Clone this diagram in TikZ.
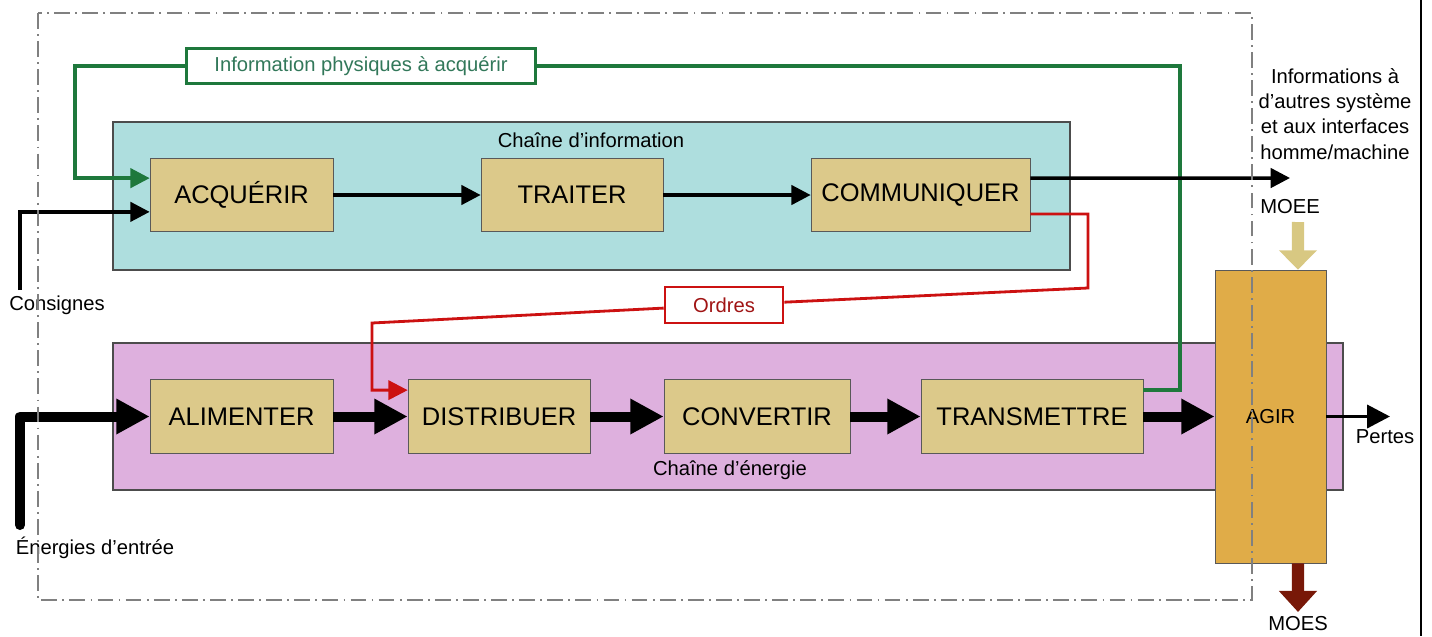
\documentclass[tikz,border=0pt]{standalone}
\usepackage{fontspec}
\setmainfont{Liberation Sans}
\usetikzlibrary{arrows.meta,positioning,calc}

\definecolor{infofill}{RGB}{174,222,222}
\definecolor{enerfill}{RGB}{222,176,222}
\definecolor{boxfill}{RGB}{220,201,138}
\definecolor{agirfill}{RGB}{224,172,72}
\definecolor{vert}{RGB}{30,120,60}
\definecolor{verttxt}{RGB}{50,120,90}
\definecolor{rouge}{RGB}{204,17,17}
\definecolor{rougetxt}{RGB}{160,20,20}
\definecolor{moee}{RGB}{216,200,130}
\definecolor{moes}{RGB}{120,24,8}

\begin{document}
\begin{tikzpicture}[x=0.02cm, y=-0.02cm,
  fonction/.style={draw=gray!70!black, fill=boxfill, minimum height=1.47cm, inner sep=0pt, font=\fontsize{14.5}{17}\selectfont},
  etiq/.style={font=\fontsize{11.5}{14.3}\selectfont, inner sep=1pt},
  info/.style={-{Triangle[length=11pt,width=11pt]}, line width=2pt},
  energie/.style={-{Triangle[length=19pt,width=19pt]}, line width=5.7pt},
  chaine/.style={draw=gray!60!black, line width=0.8pt}]

\useasboundingbox (0,0) rectangle (1432,636);

% the two chains
\draw[chaine, fill=infofill] (113,122) rectangle (1070,270);
\draw[chaine, fill=enerfill] (113,343) rectangle (1343,490);
\node[etiq] (titinfo) at (591,140) {Chaîne d’information};
\node[etiq] (titener) at (730,470) {Chaîne d’énergie};

% information chain
\node[fonction, minimum width=3.66cm] (acq) at (241.5,195) {ACQUÉRIR};
\node[fonction, minimum width=3.64cm] (trait) at (572,195) {TRAITER};
\node[fonction, minimum width=4.38cm] (comm) at (920.5,195) {COMMUNIQUER};

% energy chain
\node[fonction, minimum width=3.66cm] (alim) at (241.5,416.5) {ALIMENTER};
\node[fonction, minimum width=3.64cm] (distr) at (499,416.5) {DISTRIBUER};
\node[fonction, minimum width=3.72cm] (conv) at (757,416.5) {CONVERTIR};
\node[fonction, minimum width=4.44cm] (trans) at (1032,416.5) {TRANSMETTRE};
\node[fonction, fill=agirfill, minimum width=2.22cm, minimum height=5.86cm, font=\fontsize{11.5}{14}\selectfont] (agir) at (1270.5,416.5) {AGIR};

\draw[info] (acq) -- (trait);
\draw[info] (trait) -- (comm);
\draw[energie] (alim) -- (distr);
\draw[energie] (distr) -- (conv);
\draw[energie] (conv) -- (trans);
\draw[energie] (trans) -- (agir);

% inputs
\coordinate (cons) at (20,290);
\coordinate (ener) at (20,525);
\node[etiq] (consignes) at (57,305) {Consignes};
\node[etiq] (enertxt) at (95,548) {Énergies d’entrée};
\draw[info] (cons) |- ([yshift=-9.6pt]acq.west);
\draw[energie, line join=round, line cap=round] (ener) |- (alim.west);

% feedback and orders
\node[etiq, draw=vert, line width=1.7pt, fill=white, text=verttxt, minimum width=7cm, minimum height=0.7cm] (infophys) at (361,66) {Information physiques à acquérir};
\draw[info, vert] ([yshift=15pt]trans.east) -| (1180,66) -- (infophys)
  (infophys) -- (75,66) |- ([yshift=9.6pt]acq.west);

\node[etiq, draw=rouge, line width=1.5pt, fill=white, text=rougetxt, minimum width=2.36cm, minimum height=0.72cm] (ordres) at (724,305) {Ordres};
\draw[info, rouge, line width=1.6pt] ([yshift=-10.8pt]comm.east) -| (1088,288) -- (ordres)
  (ordres) -- (372,323) |- ([yshift=15pt]distr.west);

% outputs
\coordinate (infout) at (1290,178);
\draw[info] ([yshift=9.6pt]comm.east) -- (infout);
\node[etiq, align=center] (infotxt) at (1335,114) {Informations à\\d’autres système\\et aux interfaces\\homme/machine};

\node[etiq] (moeetxt) at (1290,207) {MOEE};
\coordinate (moeein) at (1298,222);
\draw[-{Triangle[length=11pt,width=21pt]}, line width=7pt, moee] (moeein) -- ([xshift=15.6pt]agir.north);

\coordinate (moesout) at (1298,612);
\draw[-{Triangle[length=12pt,width=21pt]}, line width=7pt, moes] ([xshift=15.6pt]agir.south) -- (moesout);
\node[etiq] (moestxt) at (1298,624) {MOES};

\coordinate (pertout) at (1390,416.5);
\draw[-{Triangle[length=13pt,width=13pt]}, line width=2.2pt] (agir.east) -- (pertout);
\node[etiq] (pertes) at (1385,437) {Pertes};

% system boundary
\draw[gray, line width=0.8pt, dash pattern=on 9pt off 3pt on 1pt off 3pt] (38,13) rectangle (1252,600);
\draw[line width=1.5pt] (1421,0) -- (1421,636);
\end{tikzpicture}
\end{document}
